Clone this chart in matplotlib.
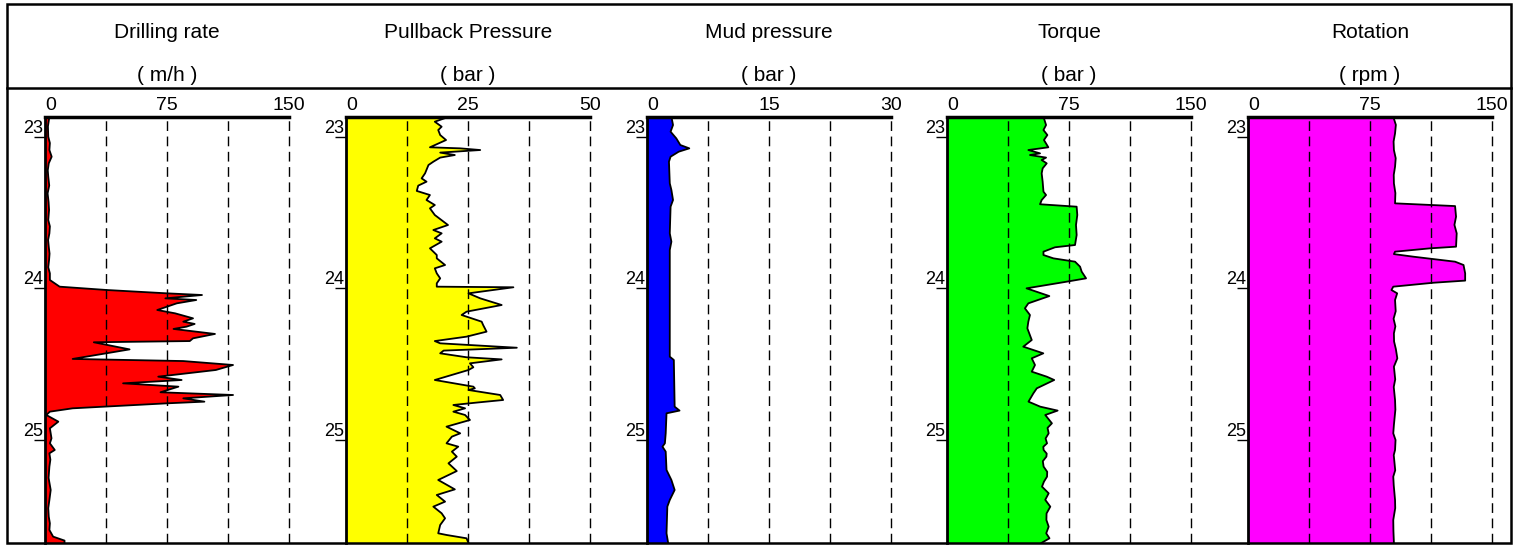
import numpy as np
import matplotlib.pyplot as plt
from matplotlib.patches import Rectangle
from matplotlib.lines import Line2D

plt.rcParams['font.family'] = ['Liberation Sans', 'DejaVu Sans']

depth_rate = [22.866, 22.930, 22.998, 23.040, 23.086, 23.130, 23.174, 23.220, 23.262, 23.320,
              23.372, 23.430, 23.482, 23.548, 23.590, 23.636, 23.680, 23.724, 23.770, 23.812,
              23.860, 23.900, 23.944, 23.988, 24.010, 24.032, 24.043, 24.065, 24.076,
              24.098, 24.142, 24.164, 24.197, 24.219, 24.234, 24.252, 24.267, 24.300, 24.329,
              24.347, 24.355, 24.402, 24.465, 24.479, 24.505, 24.538, 24.582, 24.604, 24.626,
              24.648, 24.685, 24.703, 24.725, 24.747, 24.758, 24.791, 24.813, 24.835, 24.879,
              24.923, 24.989, 25.022, 25.066, 25.088, 25.130, 25.176, 25.250, 25.330, 25.396,
              25.450, 25.506, 25.550, 25.594, 25.638, 25.664, 25.680]
rate = [2.7, 1.8, 2.0, 3.0, 2.7, 4.1, 2.3, 1.7, 2.0, 2.6,
        1.6, 2.2, 2.5, 2.0, 3.0, 2.7, 1.9, 2.3, 2.8, 2.5,
        2.0, 3.0, 3.0, 9.0, 38.0, 75.0, 96.5, 74.0, 93.0,
        81.0, 69.0, 80.0, 91.0, 85.0, 92.0, 87.0, 79.0, 104.5, 91.0,
        89.0, 30.0, 52.0, 17.0, 85.0, 115.6, 105.0, 69.6, 84.0, 48.0,
        82.0, 71.0, 115.6, 85.0, 98.0, 75.0, 17.0, 3.0, 0.8, 8.2,
        3.0, 4.0, 3.0, 6.0, 2.7, 3.3, 2.7, 2.2, 3.5, 2.7,
        2.0, 2.3, 3.0, 2.7, 5.0, 12.0, 12.0]

depth_pull = [22.866, 22.872, 22.899, 22.932, 22.954, 22.987, 23.020, 23.068, 23.075, 23.086,
              23.103, 23.119, 23.136, 23.163, 23.185, 23.240, 23.273, 23.295, 23.321, 23.356,
              23.383, 23.416, 23.449, 23.471, 23.515, 23.581, 23.614, 23.636, 23.669, 23.691,
              23.735, 23.779, 23.801, 23.845, 23.867, 23.900, 23.933, 23.966, 23.988, 23.992,
              24.032, 24.065, 24.109, 24.153, 24.175, 24.219, 24.241, 24.285, 24.318, 24.347,
              24.362, 24.391, 24.410, 24.428, 24.454, 24.468, 24.494, 24.520, 24.538, 24.604,
              24.648, 24.659, 24.670, 24.703, 24.736, 24.753, 24.769, 24.791, 24.813, 24.835,
              24.868, 24.912, 24.956, 24.978, 25.022, 25.044, 25.077, 25.110, 25.154, 25.205,
              25.264, 25.326, 25.363, 25.407, 25.440, 25.484, 25.517, 25.561, 25.616, 25.627,
              25.649, 25.680]
pull = [21.0, 20.6, 18.2, 19.6, 18.9, 19.3, 20.5, 17.2, 23.4, 27.5,
        19.3, 22.3, 19.3, 17.9, 16.9, 16.2, 15.5, 16.5, 14.8, 14.5,
        17.2, 16.5, 18.2, 17.2, 18.2, 20.9, 17.9, 19.6, 18.2, 19.6,
        17.2, 18.6, 18.6, 20.3, 18.2, 18.6, 19.3, 18.6, 18.6, 34.3,
        25.1, 27.5, 31.9, 24.7, 23.7, 27.8, 28.1, 28.8, 24.7, 18.2,
        19.3, 35.0, 20.0, 19.3, 24.7, 31.9, 25.4, 26.1, 25.1, 18.2,
        26.1, 26.4, 25.1, 31.6, 32.2, 26.8, 22.0, 24.4, 22.0, 24.4,
        25.4, 20.6, 23.4, 21.7, 20.6, 23.0, 21.7, 22.7, 21.0, 22.7,
        18.9, 22.3, 18.6, 20.3, 17.9, 19.6, 20.3, 19.3, 18.9, 20.6,
        24.7, 25.1]

depth_mud = [22.866, 22.921, 22.965, 23.009, 23.053, 23.075, 23.097, 23.130, 23.163, 23.306,
             23.350, 23.416, 23.460, 23.636, 23.691, 23.746, 24.076, 24.450, 24.472, 24.780,
             24.806, 24.824, 24.956, 25.022, 25.044, 25.077, 25.198, 25.264, 25.330, 25.396,
             25.440, 25.616, 25.680]
mud = [3.0, 3.2, 2.9, 3.6, 4.1, 5.2, 3.9, 2.9, 2.7, 2.8,
       3.0, 3.2, 2.9, 2.8, 3.0, 2.8, 2.8, 2.8, 3.3, 3.4,
       4.0, 2.4, 2.3, 2.2, 1.9, 2.3, 2.4, 3.0, 3.4, 2.8,
       2.5, 2.4, 2.6]

depth_torque = [22.868, 22.877, 22.921, 22.954, 22.987, 23.020, 23.068, 23.086, 23.108, 23.119,
                23.136, 23.152, 23.174, 23.207, 23.240, 23.295, 23.361, 23.383, 23.416, 23.444,
                23.460, 23.515, 23.581, 23.647, 23.713, 23.728, 23.757, 23.779, 23.801, 23.823,
                23.856, 23.889, 23.933, 23.955, 23.999, 24.050, 24.098, 24.131, 24.175, 24.219,
                24.263, 24.340, 24.384, 24.428, 24.461, 24.505, 24.549, 24.582, 24.604, 24.659,
                24.692, 24.747, 24.780, 24.806, 24.835, 24.890, 24.920, 24.956, 24.990, 25.022,
                25.045, 25.066, 25.090, 25.110, 25.140, 25.176, 25.210, 25.242, 25.275, 25.308,
                25.352, 25.395, 25.440, 25.485, 25.528, 25.572, 25.616, 25.649, 25.680]
torque = [59.6, 59.6, 60.9, 59.3, 61.7, 59.6, 62.3, 50.0, 57.2, 51.0,
          60.9, 58.2, 61.3, 58.8, 58.2, 58.8, 59.3, 60.9, 58.2, 57.2,
          79.7, 80.1, 79.3, 79.7, 78.7, 66.4, 59.3, 59.3, 65.4, 78.7,
          81.8, 82.8, 85.5, 73.6, 48.9, 62.9, 50.0, 47.9, 51.0, 50.0,
          49.4, 52.1, 46.9, 59.2, 52.1, 54.1, 52.1, 61.3, 65.9, 55.2,
          53.1, 50.1, 57.3, 68.0, 60.4, 64.5, 61.8, 62.5, 60.6, 61.5,
          59.2, 59.4, 61.3, 61.1, 58.9, 59.4, 61.6, 61.5, 59.6, 58.4,
          62.5, 60.4, 63.5, 61.2, 61.1, 62.5, 61.0, 63.0, 58.0]

depth_rot = [22.866, 22.920, 22.976, 23.030, 23.086, 23.140, 23.196, 23.250, 23.306, 23.370,
             23.438, 23.456, 23.526, 23.580, 23.636, 23.724, 23.735, 23.757, 23.773, 23.790,
             23.823, 23.845, 23.900, 23.948, 23.962, 23.988, 24.010, 24.032, 24.076, 24.150,
             24.200, 24.250, 24.296, 24.350, 24.400, 24.461, 24.516, 24.600, 24.650, 24.736,
             24.800, 24.900, 24.956, 25.000, 25.066, 25.100, 25.200, 25.242, 25.300, 25.396,
             25.450, 25.528, 25.600, 25.680]
rot = [89.3, 90.9, 90.4, 89.5, 89.7, 90.8, 90.4, 89.6, 89.7, 90.6,
       90.4, 127.3, 127.9, 126.9, 128.3, 127.9, 111.9, 90.4, 89.7, 101.6,
       127.3, 132.5, 133.5, 133.5, 114.0, 89.3, 88.2, 91.7, 90.4, 90.8,
       89.5, 90.6, 89.7, 89.8, 90.9, 91.8, 89.7, 90.5, 89.6, 90.4,
       90.6, 89.7, 89.3, 90.7, 90.4, 89.6, 90.5, 89.3, 89.6, 90.4,
       90.5, 89.3, 89.4, 89.7]

titles = ['Drilling rate', 'Pullback Pressure', 'Mud pressure', 'Torque', 'Rotation']
units = ['m/h', 'bar', 'bar', 'bar', 'rpm']
x_max = [150, 50, 30, 150, 150]
x_labels = [['0', '75', '150'], ['0', '25', '50'], ['0', '15', '30'],
            ['0', '75', '150'], ['0', '75', '150']]
colors = ['#ff0000', '#ffff00', '#0000ff', '#00ff00', '#ff00ff']
depths = [depth_rate, depth_pull, depth_mud, depth_torque, depth_rot]
series = [rate, pull, mud, torque, rot]

W, H = 1522, 545
fig = plt.figure(figsize=(W / 100, H / 100), dpi=100)

lefts = [45, 346, 647, 947, 1248]
pw = 244
top_px, bot_px = 117, 543

for i in range(5):
    ax = fig.add_axes([lefts[i] / W, 1 - bot_px / H, pw / W, (bot_px - top_px) / H])
    d = np.array(depths[i])
    v = np.array(series[i])
    ax.fill_betweenx(d, 0, v, facecolor=colors[i], edgecolor='none', zorder=1)
    for g in np.linspace(0, x_max[i], 5)[1:]:
        ax.axvline(g, color='k', lw=1, ls=(0, (7, 4)), zorder=2, clip_on=False)
    ax.plot(v, d, color='k', lw=1.3, zorder=3)

    ax.set_xlim(0, x_max[i])
    ax.set_ylim(25.68, 22.868)

    ax.xaxis.tick_top()
    ax.set_xticks([0, x_max[i] / 2, x_max[i]])
    ax.set_xticklabels(x_labels[i])
    ax.tick_params(axis='x', length=0, pad=2, labelsize=14)
    ax.get_xticklabels()[0].set_ha('left')

    ax.set_yticks([23, 24, 25])
    ax.set_yticklabels(['23', '24', '25'])
    ax.tick_params(axis='y', direction='out', length=8, width=1, pad=-6.5, labelsize=13)
    for t in ax.get_yticklabels():
        t.set_va('bottom')

    for s in ['right', 'bottom']:
        ax.spines[s].set_visible(False)
    ax.spines['left'].set_linewidth(2)
    ax.spines['top'].set_linewidth(2.5)

    cx = (lefts[i] + pw / 2) / W
    fig.text(cx, 1 - 32 / H, titles[i], ha='center', va='center', fontsize=15)
    fig.text(cx, 1 - 75 / H, '( ' + units[i] + ' )', ha='center', va='center', fontsize=15)

# outer frame and header line
fig.add_artist(Rectangle((7 / W, 1 - 543 / H), 1504 / W, 539 / H, transform=fig.transFigure,
                         fill=False, lw=1.8, ec='k'))
fig.add_artist(Line2D([7 / W, 1511 / W], [1 - 88 / H, 1 - 88 / H], transform=fig.transFigure,
                      lw=1.8, color='k'))

fig.savefig('out.png', dpi=100)
